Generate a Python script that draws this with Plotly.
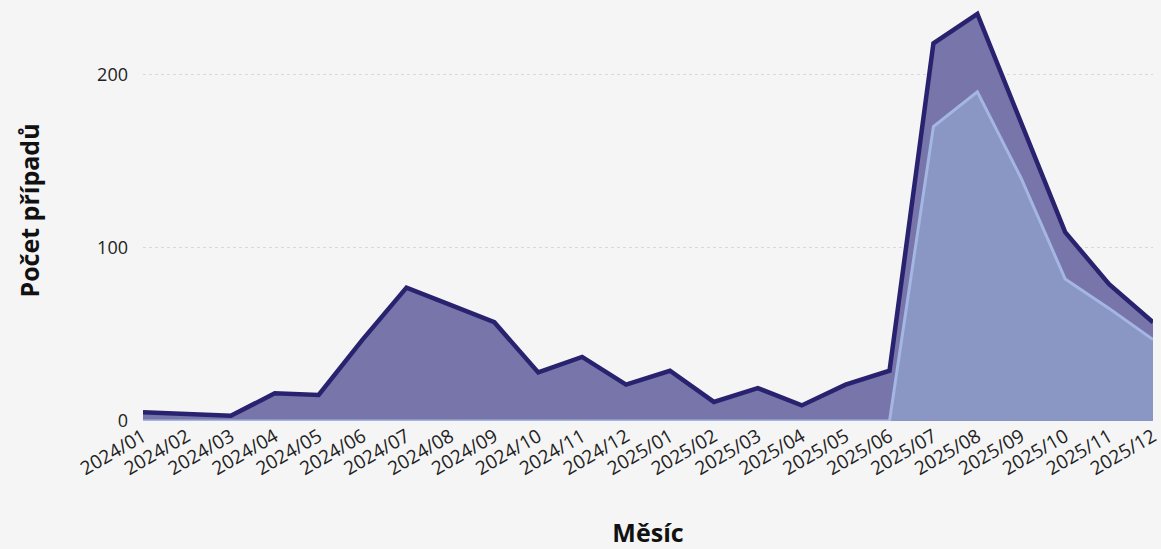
import plotly.graph_objects as go

months = ["2024/01","2024/02","2024/03","2024/04","2024/05","2024/06","2024/07","2024/08",
          "2024/09","2024/10","2024/11","2024/12","2025/01","2025/02","2025/03","2025/04",
          "2025/05","2025/06","2025/07","2025/08","2025/09","2025/10","2025/11","2025/12"]
total_cases = [5, 4, 3, 16, 15, 47, 77, 67, 57, 28, 37, 21, 29, 11, 19, 9, 21, 29, 218, 235, 172, 109, 79, 57]
sub_cases = [0, 0, 0, 0, 0, 0, 0, 0, 0, 0, 0, 0, 0, 0, 0, 0, 0, 0, 170, 190, 140, 82, 65, 47]

fig = go.Figure()
fig.add_trace(go.Scatter(x=months, y=total_cases, mode="lines", fill="tozeroy",
                         line=dict(color="#29236f", width=4.5), fillcolor="#7775aa",
                         showlegend=False))
fig.add_trace(go.Scatter(x=months, y=sub_cases, mode="lines", fill="tozeroy",
                         line=dict(color="#a4b6e2", width=3), fillcolor="#8a97c5",
                         showlegend=False))

fig.update_layout(
    width=1161, height=549,
    paper_bgcolor="#f5f5f5", plot_bgcolor="#f5f5f5",
    margin=dict(l=143, r=3, t=0, b=128),
    font=dict(family="Open Sans", color="#222222", size=18),
    xaxis=dict(type="category", range=[0, 23], tickangle=-30, showgrid=False,
               zeroline=False, showline=False, ticks="",
               tickfont=dict(size=19, color="#222222"),
               title=dict(text="Měsíc", font=dict(size=25, color="#111111", family="Open Sans", weight="bold"),
                          standoff=48)),
    yaxis=dict(range=[0, 243], tickvals=[0, 100, 200], showgrid=True,
               gridcolor="#d9d9d9", griddash="dot", gridwidth=1, zeroline=False,
               ticks="", ticklabelstandoff=14,
               tickfont=dict(size=18, color="#222222"),
               title=dict(text="Počet případů", font=dict(size=25, color="#111111", family="Open Sans", weight="bold"),
                          standoff=50)),
)
fig.write_html("out.html", config={"displayModeBar": False},
               post_script="document.body.style.margin='0';document.body.style.background='#f5f5f5';")
